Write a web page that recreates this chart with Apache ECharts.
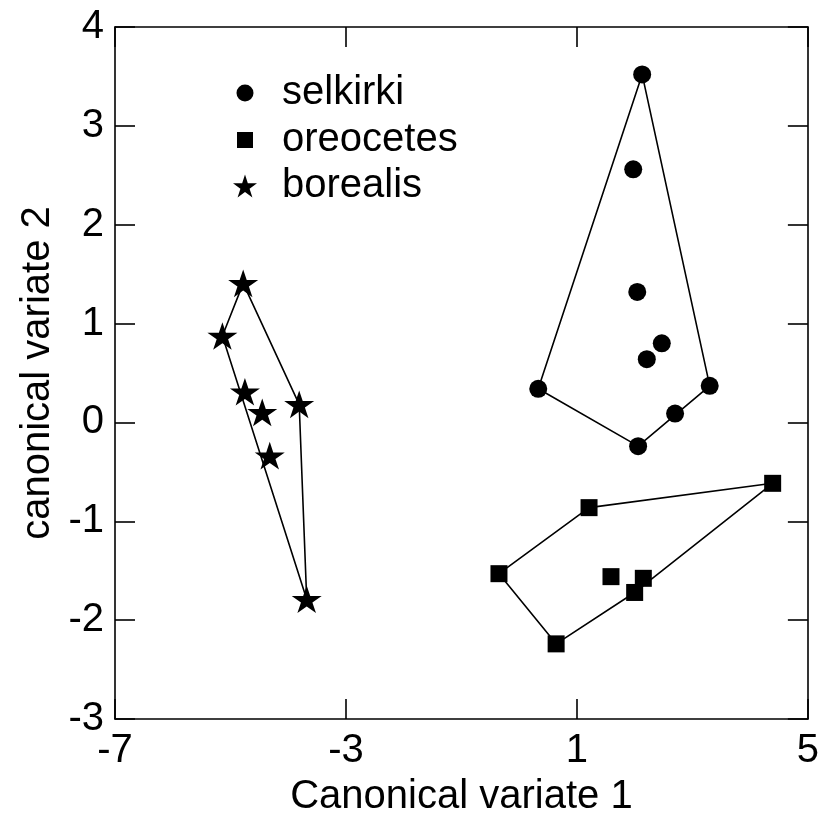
<!DOCTYPE html>
<html>
<head>
<meta charset="utf-8">
<script src="https://cdn.jsdelivr.net/npm/echarts@6/dist/echarts.min.js"></script>
<style>
html,body{margin:0;padding:0;background:#fff;}
#chart{width:822px;height:825px;}
</style>
</head>
<body>
<div id="chart"></div>
<script>
// ---- data ----
var selkirkiX = [2.13, 1.975, 2.045, 2.47, 2.21, 0.33, 3.30, 2.70, 2.06];
var selkirkiY = [3.52, 2.56, 1.32, 0.80, 0.64, 0.34, 0.37, 0.09, -0.24];

var oreocetesX = [4.39, 1.21, -0.35, 1.59, 2.15, 2.00, 0.64];
var oreocetesY = [-0.616, -0.862, -1.53, -1.56, -1.577, -1.72, -2.24];

var borealisX = [-4.78, -5.14, -4.75, -4.45, -3.81, -4.32, -3.68];
var borealisY = [1.407, 0.874, 0.311, 0.102, 0.183, -0.336, -1.789];

var seriesNames = ['selkirki', 'oreocetes', 'borealis'];
var xTicks = [-7, -3, 1, 5];
var yTicks = [-3, -2, -1, 0, 1, 2, 3, 4];

// ---- helpers ----
function zip(xs, ys) { return xs.map(function (x, i) { return [x, ys[i]]; }); }
function hull(pts) {
  var p = pts.slice().sort(function (a, b) { return a[0] - b[0] || a[1] - b[1]; });
  function cross(o, a, b) { return (a[0] - o[0]) * (b[1] - o[1]) - (a[1] - o[1]) * (b[0] - o[0]); }
  var lower = [], upper = [];
  p.forEach(function (q) {
    while (lower.length >= 2 && cross(lower[lower.length - 2], lower[lower.length - 1], q) <= 0) lower.pop();
    lower.push(q);
  });
  for (var i = p.length - 1; i >= 0; i--) {
    var q = p[i];
    while (upper.length >= 2 && cross(upper[upper.length - 2], upper[upper.length - 1], q) <= 0) upper.pop();
    upper.push(q);
  }
  upper.pop(); lower.pop();
  var h = lower.concat(upper);
  h.push(h[0]);
  return h;
}

var STAR = 'path://M0,-100 L22.45,-30.9 L95.1,-30.9 L36.3,11.8 L58.8,80.9 L0,38.2 L-58.8,80.9 L-36.3,11.8 L-95.1,-30.9 L-22.45,-30.9 Z';
var SQUARE = 'path://M0,0 L100,0 L100,100 L0,100 Z';
var FONT = 'Liberation Sans';

var sel = zip(selkirkiX, selkirkiY);
var ore = zip(oreocetesX, oreocetesY);
var bor = zip(borealisX, borealisY);

function hullSeries(pts) {
  return {
    type: 'line', data: hull(pts), showSymbol: false, symbol: 'none',
    lineStyle: { color: '#000', width: 1.6, opacity: 1 }, z: 2, silent: true, animation: false
  };
}

var axisCommon = {
  axisLine: { show: true, onZero: false, lineStyle: { color: '#000', width: 1.6 } },
  axisTick: { show: true, inside: true, length: 20, lineStyle: { color: '#000', width: 1.6 } },
  splitLine: { show: false }
};

// legend symbol centre x = 245, text starts at x = 282
function legendFor(name, icon, size, top) {
  return {
    data: [{ name: name, icon: icon }],
    left: 245 - size / 2, top: top, padding: 0,
    itemWidth: size, itemHeight: size,
    itemStyle: { color: '#000', opacity: 1 },
    textStyle: { fontFamily: FONT, fontSize: 40, color: '#000', padding: [0, 0, 0, 282 - (245 + size / 2 + 5)] },
    selectedMode: false
  };
}

var chart = echarts.init(document.getElementById('chart'), null, { renderer: 'canvas' });
chart.setOption({
  animation: false,
  backgroundColor: '#fff',
  grid: { left: 115, right: 14, top: 27, bottom: 106, containLabel: false },
  legend: [
    legendFor(seriesNames[0], 'circle', 17, 73),
    legendFor(seriesNames[1], SQUARE, 16, 120),
    legendFor(seriesNames[2], STAR, 24, 166)
  ],
  xAxis: [
    Object.assign({}, axisCommon, {
      type: 'value', position: 'bottom', min: xTicks[0], max: xTicks[xTicks.length - 1], interval: 4,
      axisLabel: { show: true, fontFamily: FONT, fontSize: 40, color: '#000', margin: 12 },
      name: 'Canonical variate 1', nameLocation: 'middle', nameGap: 58,
      nameTextStyle: { fontFamily: FONT, fontSize: 40, color: '#000' }
    }),
    Object.assign({}, axisCommon, {
      type: 'value', position: 'top', min: xTicks[0], max: xTicks[xTicks.length - 1], interval: 4,
      axisLabel: { show: false }
    })
  ],
  yAxis: [
    Object.assign({}, axisCommon, {
      type: 'value', position: 'left', min: yTicks[0], max: yTicks[yTicks.length - 1], interval: 1,
      axisLabel: { show: true, fontFamily: FONT, fontSize: 40, color: '#000', margin: 11 },
      name: 'canonical variate 2', nameLocation: 'middle', nameGap: 54,
      nameTextStyle: { fontFamily: FONT, fontSize: 40, color: '#000' }
    }),
    Object.assign({}, axisCommon, {
      type: 'value', position: 'right', min: yTicks[0], max: yTicks[yTicks.length - 1], interval: 1,
      axisLabel: { show: false }
    })
  ],
  series: [
    hullSeries(sel), hullSeries(ore), hullSeries(bor),
    { name: seriesNames[0], type: 'scatter', data: sel, symbol: 'circle', symbolSize: 18,
      itemStyle: { color: '#000', opacity: 1 }, z: 3 },
    { name: seriesNames[1], type: 'scatter', data: ore, symbol: 'rect', symbolSize: 17,
      itemStyle: { color: '#000', opacity: 1 }, z: 3 },
    { name: seriesNames[2], type: 'scatter', data: bor, symbol: STAR, symbolSize: [30, 29],
      symbolKeepAspect: true, itemStyle: { color: '#000', opacity: 1 }, z: 3 }
  ]
});
</script>
</body>
</html>
